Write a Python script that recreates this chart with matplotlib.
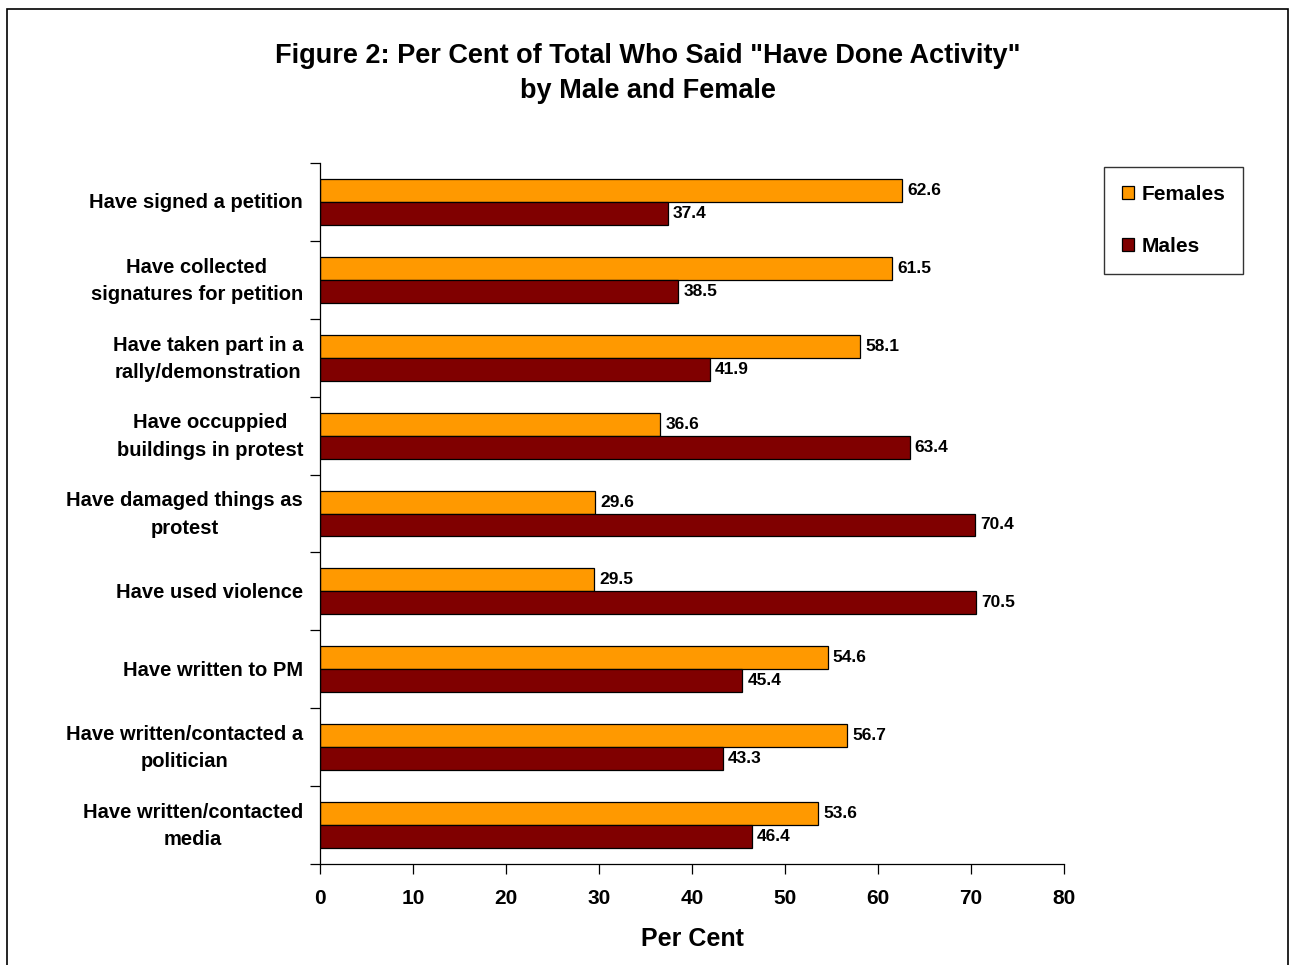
import numpy as np
import matplotlib.pyplot as plt
import matplotlib.patches as mpatches

plt.rcParams['font.family'] = ['Liberation Sans', 'DejaVu Sans']
plt.rcParams['font.weight'] = 'bold'

# Activities, top to bottom
activities = [
    "Have signed a petition",
    "Have collected\nsignatures for petition",
    "Have taken part in a\nrally/demonstration",
    "Have occuppied\nbuildings in protest",
    "Have damaged things as\nprotest",
    "Have used violence",
    "Have written to PM",
    "Have written/contacted a\npolitician",
    "Have written/contacted\nmedia",
]
females = [62.6, 61.5, 58.1, 36.6, 29.6, 29.5, 54.6, 56.7, 53.6]
males = [37.4, 38.5, 41.9, 63.4, 70.4, 70.5, 45.4, 43.3, 46.4]
x_ticks = [0, 10, 20, 30, 40, 50, 60, 70, 80]

FEMALE_COLOR = "#FF9900"
MALE_COLOR = "#800000"

fig = plt.figure(figsize=(12.9, 9.65), dpi=100)
ax = fig.add_axes([320 / 1290, 1 - 864 / 965, 744 / 1290, 701 / 965])

n = len(activities)
y = np.arange(n)
h = 0.295

ax.barh(y - h / 2, females, height=h, color=FEMALE_COLOR,
        edgecolor="black", linewidth=0.9, label="Females")
ax.barh(y + h / 2, males, height=h, color=MALE_COLOR,
        edgecolor="black", linewidth=0.9, label="Males")

for i in range(n):
    ax.text(females[i] + 0.55, y[i] - h / 2, f"{females[i]:.1f}",
            va="center", ha="left", fontsize=12.5, fontweight="bold")
    ax.text(males[i] + 0.55, y[i] + h / 2, f"{males[i]:.1f}",
            va="center", ha="left", fontsize=12.5, fontweight="bold")

ax.set_ylim(n - 0.5, -0.5)
ax.set_xlim(0, 80)

# category ticks at band boundaries, labels centred in bands
ax.set_yticks(np.arange(n + 1) - 0.5)
ax.set_yticklabels([])
ax.tick_params(axis="y", length=7, width=0.9, direction="out")
for i, lab in enumerate(activities):
    ax.annotate(lab, xy=(0, y[i]), xycoords=("axes fraction", "data"),
                xytext=(-17, -1), textcoords="offset pixels",
                ha="right", va="center", multialignment="center",
                fontsize=14.5, fontweight="bold", linespacing=1.55)

ax.set_xticks(x_ticks)
ax.set_xticklabels([str(t) for t in x_ticks], fontsize=15, fontweight="bold")
ax.tick_params(axis="x", length=7, width=0.9, direction="out", pad=11)
ax.set_xlabel("Per Cent", fontsize=18, fontweight="bold", labelpad=14)

for side in ["top", "right"]:
    ax.spines[side].set_visible(False)
for side in ["left", "bottom"]:
    ax.spines[side].set_linewidth(0.9)

fig.suptitle('Figure 2: Per Cent of Total Who Said "Have Done Activity"\nby Male and Female',
             x=648 / 1290, y=1 - 43 / 965, va="top",
             fontsize=19.5, fontweight="bold", linespacing=1.45)

leg = fig.legend(loc="upper left", bbox_to_anchor=(1104 / 1290, 1 - 167 / 965),
                 fontsize=15, frameon=True, fancybox=False, shadow=False,
                 handlelength=0.6, handleheight=0.6, handletextpad=0.35,
                 labelspacing=1.6, borderpad=0.85, borderaxespad=0)
leg.get_frame().set_edgecolor("black")
leg.get_frame().set_linewidth(1.0)
for t in leg.get_texts():
    t.set_fontweight("bold")

# outer chart frame
frame = mpatches.Rectangle((7 / 1290, -0.05), 1281 / 1290, 1.05 - 9 / 965,
                           transform=fig.transFigure, fill=False,
                           edgecolor="black", linewidth=1.2, clip_on=False)
fig.patches.append(frame)

fig.savefig("out.png", dpi=100)
